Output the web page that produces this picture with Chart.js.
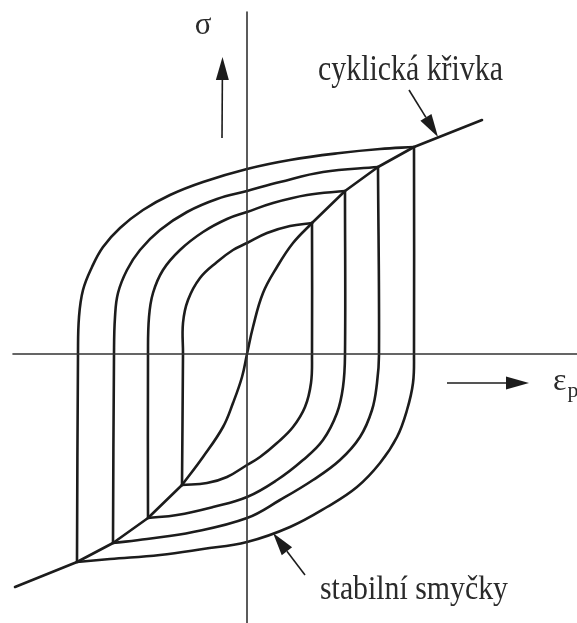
<!DOCTYPE html>
<html>
<head>
<meta charset="utf-8">
<script src="https://cdn.jsdelivr.net/npm/chart.js@4/dist/chart.umd.min.js"></script>
<style>
  html, body { margin: 0; padding: 0; background: #fff; }
  #wrap { width: 577px; height: 623px; position: relative; }
</style>
</head>
<body>
<div id="wrap"><canvas id="loops"></canvas></div>
<script>
// plastic strain (x) / stress (y), arbitrary units, origin at the axes crossing

// stable hysteresis loops, each as rising (upper) and falling (lower) branch
const loop1Upper = [[-170,-208],[-169,0],[-168,37],[-164,64],[-155,87],[-144,107],[-127,126],[-104,144],[-77,159],[-44,172],[0,185],[43,194],[93,201],[133,205],[167,207]];
const loop1Lower = [[167,207],[167,-1],[166,-29],[160,-56],[150,-83],[133,-109],[110,-133],[80,-153],[43,-173],[0,-188],[-44,-195],[-87,-201],[-137,-205],[-170,-208]];

const loop2Upper = [[-134,-189],[-133,0],[-132,37],[-129,61],[-120,84],[-107,104],[-87,124],[-60,142],[-30,155],[0,163],[33,172],[76,182],[131,187]];
const loop2Lower = [[131,187],[132,-1],[130,-29],[125,-56],[113,-83],[93,-106],[66,-126],[33,-146],[0,-164],[-54,-178],[-100,-185],[-134,-189]];

const loop3Upper = [[-99,-164],[-99,0],[-98,37],[-94,61],[-84,84],[-67,104],[-44,122],[-20,135],[0,142],[26,151],[60,159],[98,163]];
const loop3Lower = [[98,163],[98,-1],[96,-33],[90,-59],[76,-86],[56,-106],[30,-126],[0,-143],[-34,-153],[-70,-161],[-99,-164]];

const loop4Upper = [[-65,-131],[-64,0],[-64,31],[-59,54],[-47,76],[-30,92],[-14,104],[0,111],[20,121],[43,128],[65,131]];
const loop4Lower = [[65,131],[65,-1],[64,-29],[58,-53],[46,-73],[30,-89],[13,-103],[0,-111],[-20,-123],[-40,-129],[-65,-131]];

// cyclic stress-strain curve through the loop tips
const cyclicLow = [[-232,-233],[-170,-208],[-134,-189],[-99,-164],[-65,-131]];
const cyclicMid = [[-65,-131],[-44,-103],[-24,-73],[-14,-49],[-5,-23],[0,0],[6,27],[16,61],[30,87],[46,111],[65,131]];
const cyclicHigh = [[65,131],[98,163],[131,187],[167,207],[235,234]];

// coordinate axes
const axisStrain = [[-234,0],[330,0]];
const axisStress = [[0,342],[0,-269]];

// arrows: [tailX, tailY, tipX, tipY]
const arrows = [
  [-25, 216, -24.5, 297],   // stress direction
  [200, -29, 282, -29],     // strain direction
  [162, 264, 191, 217],     // pointer to cyclic curve
  [58, -221, 26, -179]      // pointer to loops
];

const labelCyclic = 'cyklická křivka';
const labelLoops = 'stabilní smyčky';
const labelStress = 'σ';
const labelStrain = 'ε';
const labelStrainSub = 'p';

const toXY = pts => pts.map(p => ({ x: p[0], y: p[1] }));

const INK = '#1c1c1c';
const SERIF = '"Liberation Serif", "DejaVu Serif", serif';

function curve(pts, tension, width) {
  return {
    data: toXY(pts),
    showLine: true,
    borderColor: INK,
    borderWidth: width || 2.6,
    pointRadius: 0,
    tension: tension,
    fill: false,
    borderCapStyle: 'round',
    borderJoinStyle: 'round'
  };
}

// arrows and text go on top of the curves
const sketchPlugin = {
  id: 'sketch',
  afterDatasetsDraw(chart) {
    const ctx = chart.ctx;
    const sx = chart.scales.x, sy = chart.scales.y;
    const px = v => sx.getPixelForValue(v);
    const py = v => sy.getPixelForValue(v);

    ctx.save();
    ctx.strokeStyle = INK;
    ctx.fillStyle = INK;
    ctx.lineWidth = 1.6;

    arrows.forEach(a => {
      const x0 = px(a[0]), y0 = py(a[1]), x1 = px(a[2]), y1 = py(a[3]);
      const ang = Math.atan2(y1 - y0, x1 - x0);
      const headLen = 23, headHalf = 6.5;
      const bx = x1 - headLen * Math.cos(ang), by = y1 - headLen * Math.sin(ang);
      ctx.beginPath();
      ctx.moveTo(x0, y0);
      ctx.lineTo(bx, by);
      ctx.stroke();
      ctx.beginPath();
      ctx.moveTo(x1, y1);
      ctx.lineTo(bx + headHalf * Math.sin(ang), by - headHalf * Math.cos(ang));
      ctx.lineTo(bx - headHalf * Math.sin(ang), by + headHalf * Math.cos(ang));
      ctx.closePath();
      ctx.fill();
    });

    // squeezed serif text, like the printed figure
    const squeezed = (text, x, y, size, width) => {
      ctx.font = size + 'px ' + SERIF;
      const w = ctx.measureText(text).width;
      ctx.save();
      ctx.translate(x, y);
      ctx.scale(width / w, 1);
      ctx.textBaseline = 'alphabetic';
      ctx.textAlign = 'left';
      ctx.fillText(text, 0, 0);
      ctx.restore();
    };

    ctx.fillStyle = '#2a2a2a';
    squeezed(labelCyclic, px(71), py(274), 36, 185);
    squeezed(labelLoops, px(73), py(-245), 34, 188);

    ctx.font = '31px ' + SERIF;
    ctx.textAlign = 'center';
    ctx.textBaseline = 'middle';
    ctx.fillText(labelStress, px(-44), py(328));

    // strain symbol with subscript, cut off by the right edge
    ctx.textAlign = 'left';
    ctx.textBaseline = 'alphabetic';
    ctx.font = '32px ' + SERIF;
    const ex = px(306), ey = py(-36);
    ctx.fillText(labelStrain, ex, ey);
    const ew = ctx.measureText(labelStrain).width;
    ctx.font = '22px ' + SERIF;
    ctx.fillText(labelStrainSub, ex + ew + 1, ey + 7);

    ctx.restore();
  }
};

new Chart(document.getElementById('loops'), {
  type: 'scatter',
  data: {
    datasets: [
      Object.assign(curve(axisStrain, 0, 1.6), { borderColor: '#333' }),
      Object.assign(curve(axisStress, 0, 1.6), { borderColor: '#333' }),
      curve(loop1Upper, 0.4), curve(loop1Lower, 0.4),
      curve(loop2Upper, 0.4), curve(loop2Lower, 0.4),
      curve(loop3Upper, 0.4), curve(loop3Lower, 0.4),
      curve(loop4Upper, 0.4), curve(loop4Lower, 0.4),
      curve(cyclicLow, 0), curve(cyclicMid, 0.4), curve(cyclicHigh, 0)
    ]
  },
  options: {
    responsive: true,
    maintainAspectRatio: false,
    animation: false,
    layout: { padding: 0 },
    plugins: {
      legend: { display: false },
      tooltip: { enabled: false }
    },
    scales: {
      x: { type: 'linear', display: false, min: -247, max: 330 },
      y: { type: 'linear', display: false, min: -269, max: 354 }
    }
  },
  plugins: [sketchPlugin]
});
</script>
</body>
</html>
